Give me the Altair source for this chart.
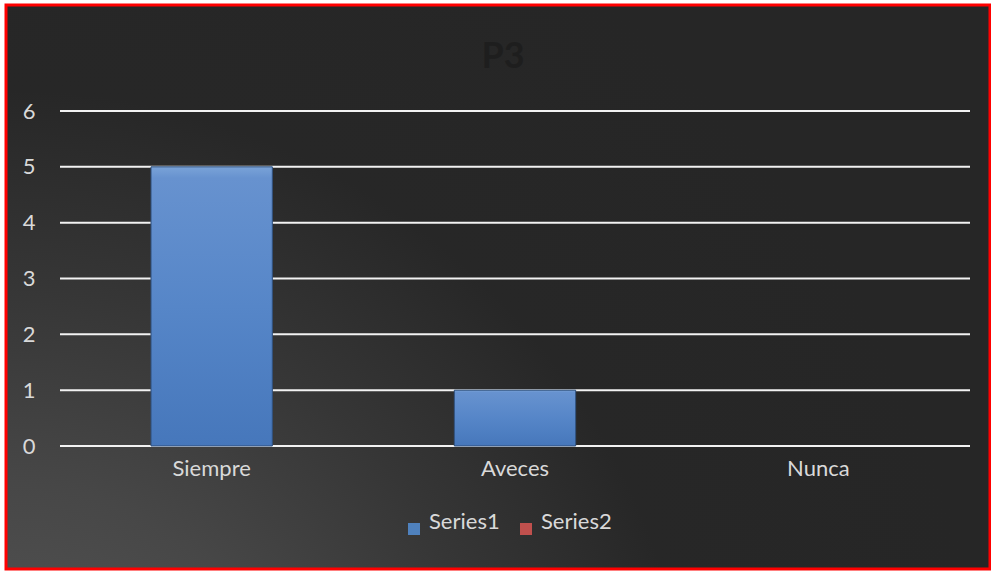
import altair as alt
import pandas as pd

title_text = "P3"
categories = ["Siempre", "Aveces", "Nunca"]
series1 = [5, 1, 0]
series2 = [0, 0, 0]
series_names = ["Series1", "Series2"]
series_colors = ["#4f81bd", "#c0504d"]
y_ticks = [0, 1, 2, 3, 4, 5, 6]

rows = []
for c, v in zip(categories, series1):
    rows.append({"cat": c, "series": "Series1", "value": v})
for c, v in zip(categories, series2):
    rows.append({"cat": c, "series": "Series2", "value": v})
df = pd.DataFrame(rows)

W, H = 910, 335
FONT = "Lato"

bg = alt.Chart(pd.DataFrame({"a": [0]})).mark_rect(
    fill={
        "gradient": "radial",
        "x1": 0.0, "y1": 1.0, "r1": 0.0,
        "x2": 0.0, "y2": 1.0, "r2": 1.0,
        "stops": [
            {"offset": 0.0, "color": "#5a5a5a"},
            {"offset": 0.3, "color": "#474747"},
            {"offset": 0.5, "color": "#363636"},
            {"offset": 0.7, "color": "#272727"},
            {"offset": 1.0, "color": "#262626"},
        ],
    },
    stroke="#ff0000",
    strokeWidth=3,
).encode(
    x=alt.value(-54), x2=alt.value(W + 20),
    y=alt.value(-106), y2=alt.value(H + 123),
)

title = alt.Chart(pd.DataFrame({"t": [title_text]})).mark_text(
    font=FONT, fontSize=36, fontWeight="bold", color="#1e1e1e",
    align="center", baseline="alphabetic",
).encode(text="t:N", x=alt.value(W / 2 - 12), y=alt.value(-43))

ydomain = alt.Scale(domain=[0, 6], nice=False)
yaxis = alt.Axis(title=None, values=y_ticks, domain=False, ticks=False, tickSize=0,
                 labelPadding=25, labelFontSize=22, labelColor="#d9d9d9",
                 labelFont=FONT, grid=False, zindex=1)

grid = alt.Chart(pd.DataFrame({"v": y_ticks})).mark_rule(
    color="#f2f2f2", strokeWidth=2
).encode(y=alt.Y("v:Q", scale=ydomain, axis=yaxis), x=alt.value(0), x2=alt.value(W))

xenc = alt.X("cat:N", sort=categories,
             scale=alt.Scale(domain=categories, paddingInner=0.6, paddingOuter=0.3),
             axis=alt.Axis(title=None, labelAngle=0, domain=False, ticks=False, tickSize=0,
                           labelPadding=12, labelFontSize=22, labelColor="#d9d9d9",
                           labelFont=FONT, grid=False, zindex=1))
yenc = alt.Y("value:Q", scale=ydomain, axis=yaxis)

base = alt.Chart(df).transform_filter(alt.datum.series == "Series1")

bars = base.mark_bar().encode(
    x=xenc, y=yenc,
    color=alt.Color("series:N", scale=alt.Scale(domain=series_names, range=series_colors),
                    legend=alt.Legend(title=None, orient="none", direction="horizontal",
                                      legendX=343, legendY=407, symbolType="square",
                                      symbolSize=144, symbolStrokeWidth=0, labelFont=FONT,
                                      labelFontSize=22, labelColor="#d9d9d9",
                                      labelBaseline="alphabetic", labelOffset=4,
                                      columnPadding=15, padding=0)),
)

bars_fx = base.transform_filter(alt.datum.value > 0).mark_bar(
    fill=alt.LinearGradient(gradient="linear", x1=0, x2=0, y1=0, y2=1, stops=[
        alt.GradientStop(offset=0, color="#7aa3d8"),
        alt.GradientStop(offset=0.04, color="#6792cf"),
        alt.GradientStop(offset=0.5, color="#5686c8"),
        alt.GradientStop(offset=1, color="#4677bb"),
    ]),
    stroke="#2f4f7a", strokeWidth=1,
).encode(x=xenc, y=yenc)

chart = alt.layer(bg, title, grid, bars, bars_fx).properties(
    width=W, height=H,
    autosize=alt.AutoSizeParams(type="none"),
    padding={"left": 60, "top": 111, "right": 21, "bottom": 125},
    background="white",
).configure_view(stroke=None)

chart.save("out.html", embed_options={"renderer": "svg", "actions": False})
